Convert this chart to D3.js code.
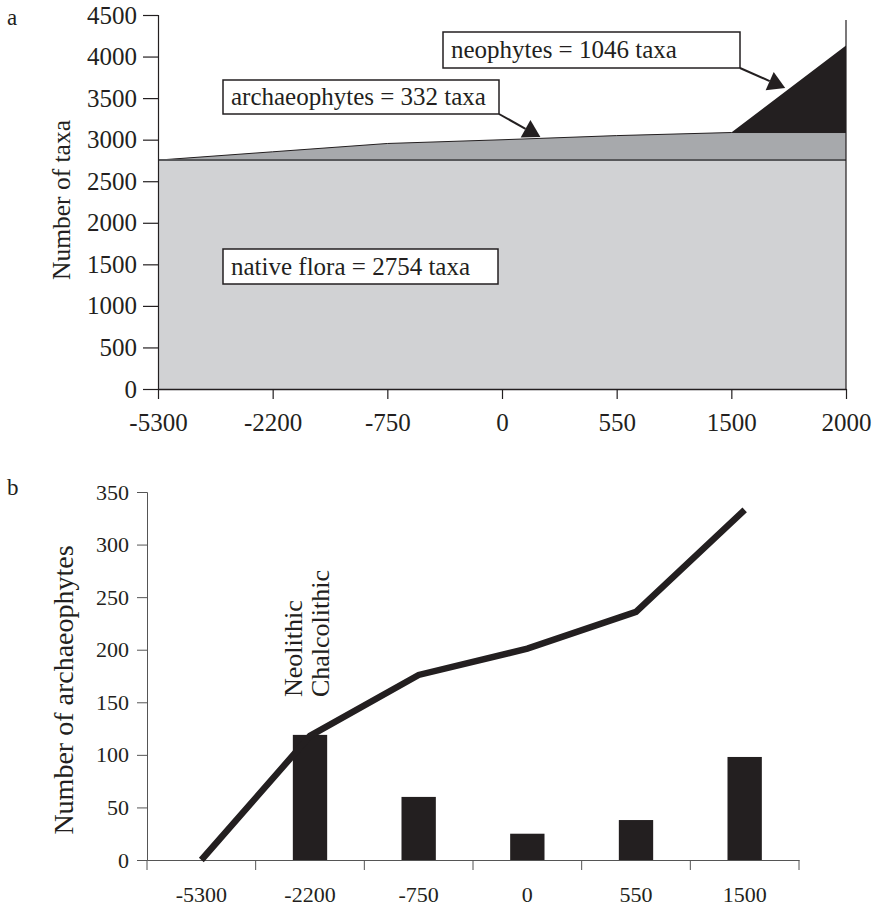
<!DOCTYPE html>
<html>
<head>
<meta charset="utf-8">
<script src="https://cdn.jsdelivr.net/npm/d3@7"></script>
<style>
  body { margin: 0; background: #fff; }
  svg { display: block; }
  text { font-family: "Liberation Serif", "Times New Roman", serif; fill: #231f20; }
</style>
</head>
<body>
<svg id="chart" width="874" height="906"></svg>
<script>
// ---- data, panel a (stacked areas) ----
var periodsA = ['-5300', '-2200', '-750', '0', '550', '1500', '2000'];
var nativeTaxa = [2754, 2754, 2754, 2754, 2754, 2754, 2754];
var archaeoTaxa = [0, 100, 200, 245, 295, 332, 332];
var neoTaxa = [0, 0, 0, 0, 0, 0, 1046];
var yTicksA = [0, 500, 1000, 1500, 2000, 2500, 3000, 3500, 4000, 4500];

// ---- data, panel b (bars + cumulative line) ----
var periodsB = ['-5300', '-2200', '-750', '0', '550', '1500'];
var newArchaeo = [0, 119, 60, 25, 38, 98];
var cumArchaeo = [0, 118, 176, 201, 236, 333];
var yTicksB = [0, 50, 100, 150, 200, 250, 300, 350];
var periodNotes = ['Neolithic', 'Chalcolithic'];

var ink = '#231f20';
var svg = d3.select('#chart');

// ================= panel a =================
var xA = d3.scalePoint().domain(periodsA).range([158, 846]);
var yA = d3.scaleLinear().domain([0, 4500]).range([389, 15]);

var rowsA = periodsA.map(function(p, i) {
  return {period: p, native: nativeTaxa[i], archaeo: archaeoTaxa[i], neo: neoTaxa[i]};
});
var stackA = d3.stack().keys(['native', 'archaeo', 'neo'])(rowsA);
var fillsA = {native: '#d1d2d4', archaeo: '#a7a9ac', neo: ink};

var areaA = d3.area()
  .x(function(d) { return xA(d.data.period); })
  .y0(function(d) { return yA(d[0]); })
  .y1(function(d) { return yA(d[1]); });

var gA = svg.append('g');
gA.selectAll('path.layer')
  .data(stackA)
  .enter()
  .append('path')
  .attr('class', 'layer')
  .attr('d', areaA)
  .attr('fill', function(d) { return fillsA[d.key]; });

// boundary lines on top of native and archaeophyte layers
var topLine = d3.line()
  .x(function(d) { return xA(d.data.period); })
  .y(function(d) { return yA(d[1]); });
gA.append('path').attr('d', topLine(stackA[1]))
  .attr('fill', 'none').attr('stroke', ink).attr('stroke-width', 1);
gA.append('path').attr('d', topLine(stackA[0]))
  .attr('fill', 'none').attr('stroke', '#58595b').attr('stroke-width', 2);

// right edge
gA.append('line')
  .attr('x1', xA('2000')).attr('x2', xA('2000'))
  .attr('y1', yA(4440)).attr('y2', yA(0))
  .attr('stroke', ink).attr('stroke-width', 1.2);

var axisYA = d3.axisLeft(yA).tickValues(yTicksA).tickFormat(d3.format('d'))
  .tickSize(15).tickPadding(6);
gA.append('g').attr('transform', 'translate(158,0)').call(axisYA)
  .call(function(g) {
    g.select('.domain').attr('stroke', ink).attr('stroke-width', 1.2);
    g.selectAll('.tick line').attr('stroke', ink).attr('stroke-width', 1.2);
    g.selectAll('.tick text').attr('font-size', '25px').attr('fill', ink)
      .style('font-family', '"Liberation Serif", serif');
  });

var axisXA = d3.axisBottom(xA).tickSize(10).tickPadding(14).tickSizeOuter(0);
gA.append('g').attr('transform', 'translate(0,389)').call(axisXA)
  .call(function(g) {
    g.select('.domain').attr('stroke', ink).attr('stroke-width', 1.5);
    g.selectAll('.tick line').attr('stroke', ink).attr('stroke-width', 1.2);
    g.selectAll('.tick text').attr('font-size', '25px').attr('fill', ink)
      .style('font-family', '"Liberation Serif", serif');
  });

gA.append('text')
  .attr('transform', 'translate(70,200) rotate(-90)')
  .attr('text-anchor', 'middle')
  .attr('font-size', '25.5px')
  .text('Number of taxa');

svg.append('text').attr('x', 7).attr('y', 25).attr('font-size', '23px').text('a');

// callouts
function xAt(i, frac) { return xA(periodsA[i]) + frac * xA.step(); }

function arrow(g, sx, sy, tx, ty) {
  var dx = tx - sx, dy = ty - sy, len = Math.sqrt(dx * dx + dy * dy);
  var ux = dx / len, uy = dy / len, L = 17, W = 20;
  var bx = tx - ux * L, by = ty - uy * L;
  g.append('line').attr('x1', sx).attr('y1', sy).attr('x2', bx).attr('y2', by)
    .attr('stroke', ink).attr('stroke-width', 2);
  g.append('path')
    .attr('d', 'M' + tx + ',' + ty + 'L' + (bx - uy * W / 2) + ',' + (by + ux * W / 2) +
               'L' + (bx + uy * W / 2) + ',' + (by - ux * W / 2) + 'Z')
    .attr('fill', ink);
}

var callouts = [
  {text: 'neophytes = 1046 taxa', box: [443, 32, 297, 36], tip: [xAt(5, 0.47), yA(3622)]},
  {text: 'archaeophytes = 332 taxa', box: [223, 80, 276, 34], tip: [xAt(3, 0.335), yA(3032)]},
  {text: 'native flora = 2754 taxa', box: [223, 249, 275, 35], tip: null}
];
callouts.forEach(function(c) {
  var b = c.box;
  if (c.tip) arrow(gA, b[0] + b[2], b[1] + b[3], c.tip[0], c.tip[1]);
  gA.append('rect').attr('x', b[0]).attr('y', b[1]).attr('width', b[2]).attr('height', b[3])
    .attr('fill', '#fff').attr('stroke', ink).attr('stroke-width', 1.5);
  gA.append('text').attr('x', b[0] + 8).attr('y', b[1] + b[3] / 2 + 8)
    .attr('font-size', '25px').text(c.text);
});

// ================= panel b =================
var xB = d3.scaleBand().domain(periodsB).range([147, 799]);
var yB = d3.scaleLinear().domain([0, 350]).range([860, 492]);
var barW = xB.bandwidth() * 0.316;

var rowsB = periodsB.map(function(p, i) {
  return {period: p, added: newArchaeo[i], total: cumArchaeo[i]};
});

var gB = svg.append('g');
gB.selectAll('rect.bar')
  .data(rowsB.filter(function(d) { return d.added > 0; }))
  .enter()
  .append('rect')
  .attr('class', 'bar')
  .attr('x', function(d) { return xB(d.period) + xB.bandwidth() / 2 - barW / 2; })
  .attr('y', function(d) { return yB(d.added); })
  .attr('width', barW)
  .attr('height', function(d) { return yB(0) - yB(d.added); })
  .attr('fill', ink);

var axisYB = d3.axisLeft(yB).tickValues(yTicksB).tickSize(10).tickPadding(8);
gB.append('g').attr('transform', 'translate(147,0)').call(axisYB)
  .call(function(g) {
    g.select('.domain').attr('stroke', '#555').attr('stroke-width', 1);
    g.selectAll('.tick line').attr('stroke', '#555');
    g.selectAll('.tick text').attr('font-size', '22px').attr('fill', ink)
      .style('font-family', '"Liberation Serif", serif');
  });

var axisXB = d3.axisBottom(xB).tickSize(0).tickPadding(26).tickSizeOuter(0);
gB.append('g').attr('transform', 'translate(0,860)').call(axisXB)
  .call(function(g) {
    g.select('.domain').attr('stroke', '#555').attr('stroke-width', 1);
    g.selectAll('.tick text').attr('font-size', '22px').attr('fill', ink)
      .style('font-family', '"Liberation Serif", serif');
  });
// category boundary ticks
gB.append('g').selectAll('line')
  .data(periodsB.concat(['end']))
  .enter()
  .append('line')
  .attr('x1', function(d) { return d === 'end' ? xB.range()[1] : xB(d); })
  .attr('x2', function(d) { return d === 'end' ? xB.range()[1] : xB(d); })
  .attr('y1', yB(0)).attr('y2', yB(0) + 10)
  .attr('stroke', '#555');

var lineB = d3.line()
  .x(function(d) { return xB(d.period) + xB.bandwidth() / 2; })
  .y(function(d) { return yB(d.total); });
gB.append('path').attr('d', lineB(rowsB))
  .attr('fill', 'none').attr('stroke', ink).attr('stroke-width', 6.5)
  .attr('stroke-linejoin', 'miter');

var noteX = xB('-2200') + xB.bandwidth() / 2;
gB.selectAll('text.note')
  .data(periodNotes)
  .enter()
  .append('text')
  .attr('class', 'note')
  .attr('transform', function(d, i) { return 'translate(' + (noteX - 8 + i * 27) + ',' + yB(155) + ') rotate(-90)'; })
  .attr('font-size', '26px')
  .text(function(d) { return d; });

gB.append('text')
  .attr('transform', 'translate(73,690) rotate(-90)')
  .attr('text-anchor', 'middle')
  .attr('font-size', '28px')
  .text('Number of archaeophytes');

svg.append('text').attr('x', 7).attr('y', 495).attr('font-size', '23px').text('b');
</script>
</body>
</html>
